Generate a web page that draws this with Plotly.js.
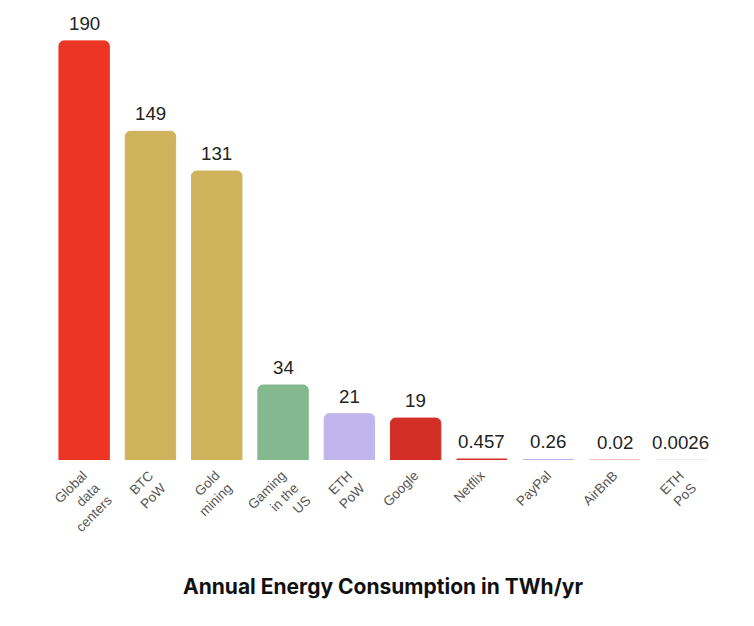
<!DOCTYPE html>
<html><head><meta charset="utf-8">
<script src="https://cdn.plot.ly/plotly-3.0.1.min.js"></script>
<style>html,body{margin:0;padding:0;background:#fff}</style></head>
<body><div id="chart" style="width:754px;height:626px"></div>
<script>
const categories = ["Global<br>data<br>centers","BTC<br>PoW","Gold<br>mining","Gaming<br>in the<br>US","ETH<br>PoW","Google","Netflix","PayPal","AirBnB","ETH<br>PoS"];
const values = [190,149,131,34,21,19,0.457,0.26,0.02,0.0026];
const valueLabels = ["190","149","131","34","21","19","0.457","0.26","0.02","0.0026"];
const barColors = ["#ec3524","#cfb25c","#cfb25c","#84b98f","#c0b5ec","#d42f27","#d42f27","#b4b4ea","#eeb0a6","#e6e4f0"];
const title = "Annual Energy Consumption in TWh/yr";

Plotly.newPlot("chart",[{
  type:"bar", x:categories, y:values,
  marker:{color:barColors, line:{color:barColors, width:1}, cornerradius:5},
  hoverinfo:"skip"
}],{
  width:754,height:626,showlegend:false,
  paper_bgcolor:"#fff",plot_bgcolor:"#fff",
  margin:{l:50.5,r:39.5,t:10,b:166,pad:0},
  bargap:0.24,
  title:{text:"<b>"+title+"</b>",font:{family:"Inter, Liberation Sans, sans-serif",size:21,color:"#111"},x:0.508,xanchor:"center",y:0.0625,yanchor:"middle"},
  xaxis:{type:"category",tickangle:-45,showgrid:false,zeroline:false,showline:false,ticks:"",ticklen:0,
    ticklabelstandoff:4,ticklabelshift:-1,
    tickfont:{family:"Liberation Sans, Arial, sans-serif",size:13.5,color:"#555"}},
  yaxis:{range:[0,204],visible:false,showgrid:false,zeroline:false},
  annotations:categories.map((c,i)=>({x:c,y:values[i],xref:"x",yref:"y",text:valueLabels[i],showarrow:false,
    xanchor:"center",yanchor:"bottom",yshift:5,font:{family:"Liberation Sans, Arial, sans-serif",size:18.7,color:"#222"}}))
},{displayModeBar:false,staticPlot:true});
</script></body></html>
